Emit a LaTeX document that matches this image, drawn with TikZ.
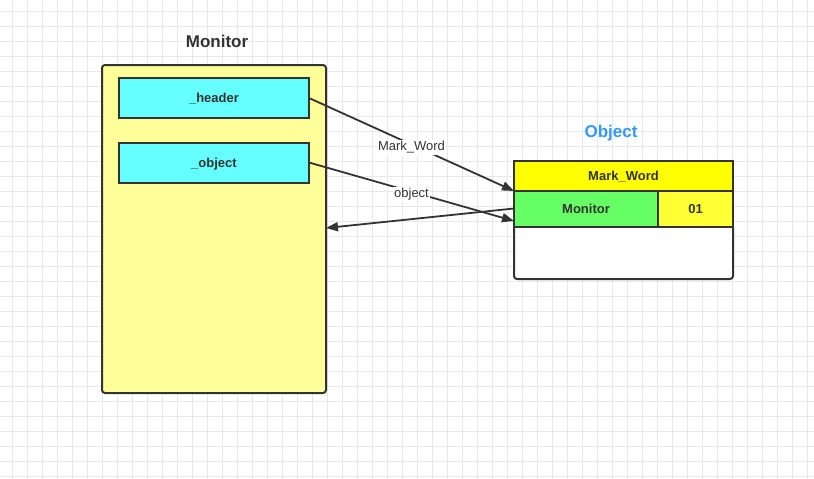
\documentclass[tikz,border=0pt]{standalone}
\usepackage{fontspec}
\setmainfont{Liberation Sans}
\usetikzlibrary{arrows.meta}
\definecolor{ink}{HTML}{333333}
\definecolor{gridc}{HTML}{E8E8E8}
\definecolor{paleyellow}{HTML}{FFFF99}
\definecolor{cyanfill}{HTML}{66FFFF}
\definecolor{yellowfill}{HTML}{FFFF00}
\definecolor{yellowcell}{HTML}{FFFF33}
\definecolor{greenfill}{HTML}{66FF66}
\definecolor{titleblue}{HTML}{3399FF}
\tikzset{
  box/.style={draw=ink, line width=2pt, inner sep=0pt, outer sep=0pt, text depth=0pt},
  field/.style={box, fill=cyanfill, minimum width=190pt, minimum height=40pt,
    font=\bfseries\fontsize{13}{15}\selectfont, text=ink},
  cell/.style={box, font=\bfseries\fontsize{13}{15}\selectfont, text=ink},
  title/.style={font=\bfseries\fontsize{17}{20}\selectfont},
  link/.style={draw=ink, line width=1.8pt, -{Triangle[length=12pt,width=9pt]}},
  tag/.style={fill=white, inner sep=1pt, text=ink, font=\fontsize{13}{15}\selectfont},
}
\begin{document}
\begin{tikzpicture}[x=1pt, y=-1pt]
  \useasboundingbox (0,0) rectangle (814,479);
  \fill[white] (0,0) rectangle (814,479);
  % background grid
  \foreach \i in {0,...,53} {
    \draw[gridc, line width=1pt] ({12.5+15*\i},0) -- ({12.5+15*\i},479);
  }
  \foreach \j in {0,...,31} {
    \draw[gridc, line width=1pt] (0,{11.5+15*\j}) -- (814,{11.5+15*\j});
  }

  % Monitor structure
  \node[title, text=ink] (montitle) at (217,41) {Monitor};
  \draw[box, fill=paleyellow, rounded corners=3pt] (102,65) rectangle (326,393);
  \coordinate (monbody) at (326,228);
  \node[field] (header) at (214,98) {\_header};
  \node[field] (objfield) at (214,162.5) {\_object};

  % Object layout
  \node[title, text=titleblue] (objtitle) at (611,133) {Object};
  \draw[box, fill=white, rounded corners=3pt] (514,227) -- (514,279) -- (733,279) -- (733,227);
  \node[cell, fill=yellowfill, minimum width=219pt, minimum height=30pt, anchor=north west]
    (mw) at (514,161) {Mark\_Word};
  \node[cell, fill=greenfill, minimum width=144pt, minimum height=36pt, anchor=north west]
    (mon) at (514,191) {Monitor};
  \node[cell, fill=yellowcell, minimum width=75pt, minimum height=36pt, anchor=north west]
    (lock) at (658,191) {01};
  \coordinate (objin) at (514,221);
  \coordinate (monout) at (514,208.5);

  % references
  \draw[link] (header.east) -- node[tag, pos=0.5, yshift=-3pt] {Mark\_Word} (mw.south west);
  \draw[link] (objfield.east) -- node[tag, pos=0.5, yshift=-2pt] {object} (objin);
  \draw[link] (monout) -- (monbody);
\end{tikzpicture}
\end{document}
